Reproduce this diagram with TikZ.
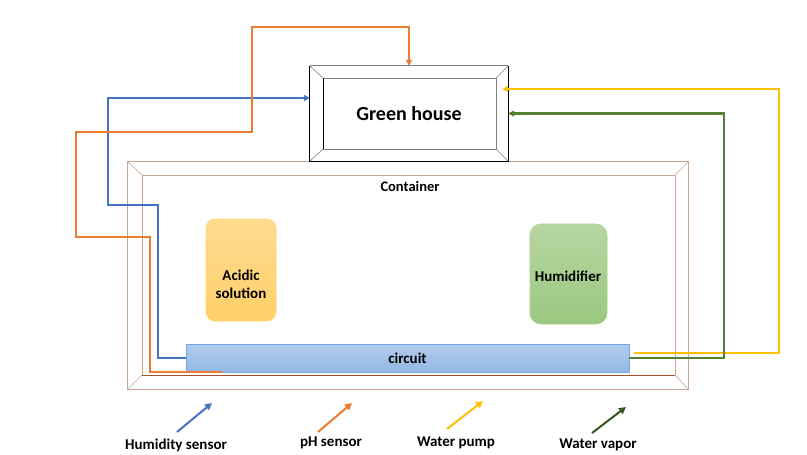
\documentclass[tikz,border=0pt]{standalone}
\usepackage{fontspec}
\setmainfont{Carlito}
\usetikzlibrary{arrows.meta,calc}
\definecolor{cblue}{HTML}{4472C4}
\definecolor{corange}{HTML}{ED7D31}
\definecolor{cyellow}{HTML}{FFC000}
\definecolor{cgreen}{HTML}{548235}
\definecolor{cdgreen}{HTML}{375623}
\definecolor{ctan}{RGB}{205,165,140}
\definecolor{cbrown}{RGB}{160,82,45}
\begin{document}
\begin{tikzpicture}[x=1pt,y=-1pt,
  wire/.style={line width=2.3pt},
  tip/.style={-{Triangle[length=6pt,width=6pt]}},
  lbl/.style={font=\bfseries\fontsize{15}{18}\selectfont},
  legarrow/.style={line width=2pt,-{Triangle[length=7pt,width=7pt]}}]
\useasboundingbox[fill=white] (0,0) rectangle (807,455);

% container
\node[minimum width=560pt,minimum height=227pt,inner sep=0] (cont) at (408,275.5) {};
\draw[ctan,line width=0.8pt] (cont.north west) rectangle (cont.south east);
\draw[ctan,line width=0.8pt] (142,175) -- (675,175) -- (675,375);
\draw[ctan,line width=0.8pt] (142,375) -- (142,175);
\draw[cbrown,line width=1pt] (142,375) -- (675,375);
\draw[ctan,line width=0.6pt] (cont.north west) -- (142,175) (cont.north east) -- (675,175)
  (cont.south west) -- (142,375) (cont.south east) -- (675,375);
\node[font=\bfseries\fontsize{14.5}{17}\selectfont] (contl) at (410,186) {Container};

% green house
\node[minimum width=198pt,minimum height=95pt,inner sep=0,
  font=\bfseries\fontsize{20}{23}\selectfont] (gh) at (409,113.5) {Green house};
\draw[gray,line width=0.8pt] (gh.north west) -- (gh.north east);
\draw[black,line width=0.9pt] (gh.north east) -- (gh.south east) -- (gh.south west) -- (gh.north west);
\draw[gray,line width=0.8pt] (323,78) rectangle (496,149);
\draw[black,line width=0.9pt] (323,78) -- (323,149);
\draw[gray,line width=0.6pt] (gh.north west) -- (323,78) (gh.north east) -- (496,78)
  (gh.south west) -- (323,149) (gh.south east) -- (496,149);

% inner components
\node[rounded corners=9pt,minimum width=70pt,minimum height=102pt,
  top color={rgb,255:red,255;green,219;blue,146},bottom color={rgb,255:red,255;green,208;blue,104},
  draw={rgb,255:red,255;green,217;blue,110},line width=0.6pt] (acid) at (241,270) {};
\node[lbl,align=center] (acidl) at (241,284) {Acidic\\solution};
\node[rounded corners=11pt,minimum width=77pt,minimum height=100pt,inner sep=0,
  top color={rgb,255:red,182;green,214;blue,162},bottom color={rgb,255:red,155;green,200;blue,128},
  draw={rgb,255:red,169;green,209;blue,142},line width=0.6pt] (hum) at (568.5,274) {};
\node[lbl] (huml) at (568,276.5) {Humidifier};
\node[minimum width=443pt,minimum height=28pt,inner sep=0,
  top color={rgb,255:red,178;green,204;blue,235},bottom color={rgb,255:red,146;green,184;blue,228},
  draw={rgb,255:red,120;green,165;blue,220},line width=0.6pt,
  lbl] (circ) at (407.5,358) {circuit};

% connectors
\coordinate (bend1) at (158,358);
\draw[wire,cblue,tip] (circ.west) -- (bend1) -- (158,205) -- (108,205) -- (108,98) -- (gh.west |- 0,98);
\coordinate (ostart) at (222,372);
\draw[wire,corange,tip] (ostart) -- (150,372) -- (150,237) -- (76,237) -- (76,132) -- (252,132)
  -- (252,27) -- (gh.north |- 0,27) -- (gh.north);
\coordinate (ystart) at ($(circ.east)+(5,-5)$);
\coordinate (yend) at ($(gh.east |- 0,89)+(-6,0)$);
\draw[wire,cyellow,tip] (ystart) -- (779,353) -- (779,89) -- (yend);
\draw[wire,cgreen,tip] (circ.east) -- (724,358) -- (724,113.5) -- (gh.east);

% legend
\coordinate (l1a) at (177,432); \coordinate (l1b) at (212,403);
\coordinate (l2a) at (318,432); \coordinate (l2b) at (352,403);
\coordinate (l3a) at (447,429); \coordinate (l3b) at (483,401);
\coordinate (l4a) at (592,433); \coordinate (l4b) at (626,407);
\draw[legarrow,cblue] (l1a) -- (l1b);
\draw[legarrow,corange] (l2a) -- (l2b);
\draw[legarrow,cyellow] (l3a) -- (l3b);
\draw[legarrow,cdgreen] (l4a) -- (l4b);
\node[lbl] (t1) at (176,445) {Humidity sensor};
\node[lbl] (t2) at (331,443) {pH sensor};
\node[lbl] (t3) at (456,443) {Water pump};
\node[lbl] (t4) at (598,445) {Water vapor};
\end{tikzpicture}
\end{document}
